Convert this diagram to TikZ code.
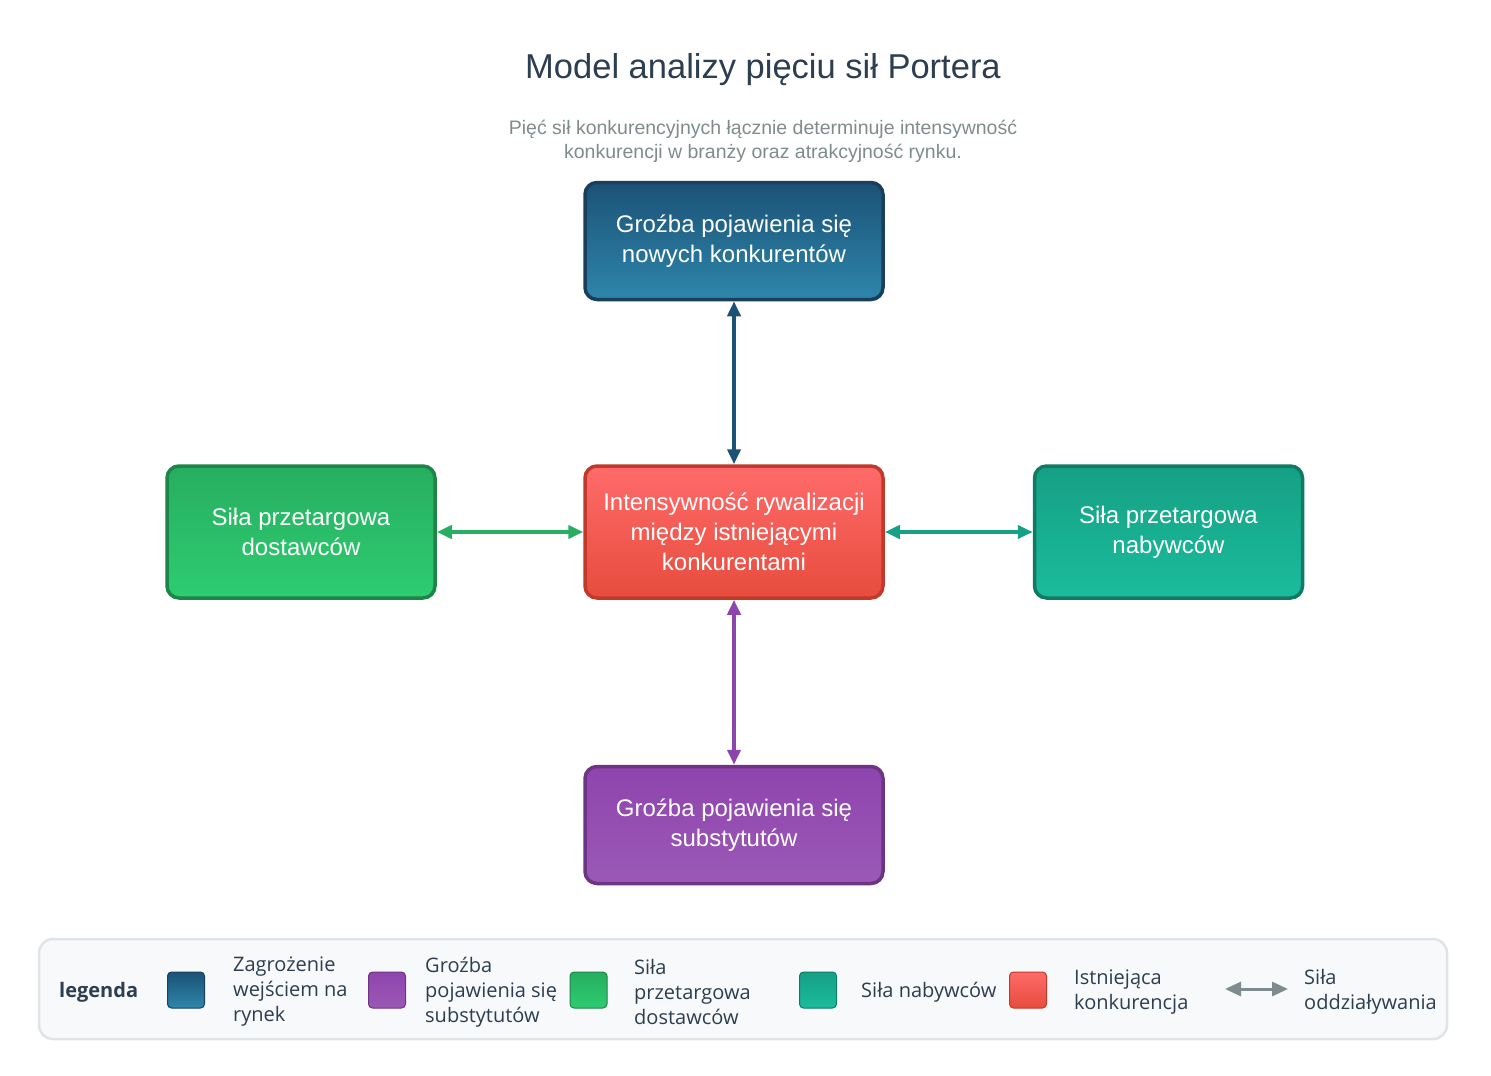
\documentclass[tikz,border=0pt]{standalone}
\usepackage{fontspec}
\setmainfont{Liberation Sans}
\newfontfamily\legendfont{Open Sans}
\usetikzlibrary{arrows.meta}

\definecolor{titletext}{HTML}{2C3E50}
\definecolor{subtext}{HTML}{7F8C8D}
\definecolor{entryA}{HTML}{1B5276}
\definecolor{entryB}{HTML}{2E86AB}
\definecolor{entryline}{HTML}{1A3F5C}
\definecolor{rivalA}{HTML}{FF6B6B}
\definecolor{rivalB}{HTML}{E74C3C}
\definecolor{rivalline}{HTML}{C0392B}
\definecolor{supplyA}{HTML}{27AE60}
\definecolor{supplyB}{HTML}{2ECC71}
\definecolor{supplyline}{HTML}{1E8449}
\definecolor{buyerA}{HTML}{16A085}
\definecolor{buyerB}{HTML}{1ABC9C}
\definecolor{buyerline}{HTML}{117A65}
\definecolor{substA}{HTML}{8E44AD}
\definecolor{substB}{HTML}{9B59B6}
\definecolor{substline}{HTML}{6C3483}
\definecolor{legendfill}{HTML}{F8F9FA}
\definecolor{legendline}{HTML}{E1E4E6}

\begin{document}
\begin{tikzpicture}[x=1pt,y=-1pt,>={Triangle[length=15pt,width=13pt]}]
    \tikzset{
        force/.style={
            draw,line width=3.5pt,rounded corners=12pt,
            minimum width=298pt,minimum height=117pt,
            inner sep=0pt,align=center,text=white,
            font=\fontsize{24}{30}\selectfont
        },
        entry/.style={force,top color=entryA,bottom color=entryB,draw=entryline},
        rival/.style={force,top color=rivalA,bottom color=rivalB,draw=rivalline,
            minimum height=132pt},
        supply/.style={force,top color=supplyA,bottom color=supplyB,draw=supplyline,
            minimum width=268pt,minimum height=132pt},
        buyer/.style={force,top color=buyerA,bottom color=buyerB,draw=buyerline,
            minimum width=268pt,minimum height=132pt},
        subst/.style={force,top color=substA,bottom color=substB,draw=substline},
        flow/.style={<->,line width=4pt},
        swatch/.style={
            draw,line width=1pt,rounded corners=4pt,
            minimum width=37pt,minimum height=36pt,inner sep=0pt
        },
        legtext/.style={
            anchor=west,align=left,inner sep=0pt,text=titletext,
            font=\legendfont\fontsize{20}{25}\selectfont
        }
    }

    \useasboundingbox[fill=white] (0,0) rectangle (1491,1076);

    \node[text=titletext,font=\fontsize{34.5}{40}\selectfont] (title) at (763,70)
        {Model analizy pięciu sił Portera};
    \node[text=subtext,align=center,font=\fontsize{19.5}{24}\selectfont]
        (subtitle) at (763,141)
        {Pięć sił konkurencyjnych łącznie determinuje intensywność\\
         konkurencji w branży oraz atrakcyjność rynku.};

    \node[entry] (entrants) at (734,241)
        {Groźba pojawienia się\\nowych konkurentów};
    \node[rival] (rivalry) at (734,532)
        {Intensywność rywalizacji\\między istniejącymi\\konkurentami};
    \node[supply] (suppliers) at (301,532)
        {Siła przetargowa\\dostawców};
    \node[buyer] (buyers) at (1168.5,532)
        {Siła przetargowa\\nabywców};
    \node[subst] (substitutes) at (734,825)
        {Groźba pojawienia się\\substytutów};

    \draw[flow,entryA] (entrants) -- (rivalry);
    \draw[flow,supplyA] (suppliers) -- (rivalry);
    \draw[flow,buyerA] (rivalry) -- (buyers);
    \draw[flow,substA] (rivalry) -- (substitutes);

    % legenda
    \node[draw=legendline,fill=legendfill,line width=2.5pt,rounded corners=14pt,
        minimum width=1408pt,minimum height=100pt,inner sep=0pt]
        (legend-box) at (743,989) {};
    \node[legtext,font=\legendfont\bfseries\fontsize{20}{25}\selectfont]
        (leg-title) at (59,992) {legenda};
    \node[swatch,top color=entryA,bottom color=entryB,draw=entryline]
        (leg-entry) at (186,990) {};
    \node[legtext] (leg-entry-txt) at (233,992)
        {Zagrożenie\\wejściem na\\rynek};
    \node[swatch,top color=substA,bottom color=substB,draw=substline]
        (leg-subst) at (387,990) {};
    \node[legtext] (leg-subst-txt) at (425,992)
        {Groźba\\pojawienia się\\substytutów};
    \node[swatch,top color=supplyA,bottom color=supplyB,draw=supplyline]
        (leg-supply) at (588.5,990) {};
    \node[legtext] (leg-supply-txt) at (634,992)
        {Siła\\przetargowa\\dostawców};
    \node[swatch,top color=buyerA,bottom color=buyerB,draw=buyerline]
        (leg-buyer) at (818,990) {};
    \node[legtext] (leg-buyer-txt) at (861,992) {Siła nabywców};
    \node[swatch,top color=rivalA,bottom color=rivalB,draw=rivalline]
        (leg-rival) at (1028,990) {};
    \node[legtext] (leg-rival-txt) at (1074,992)
        {Istniejąca\\konkurencja};
    \coordinate (leg-arrow-a) at (1225,989);
    \coordinate (leg-arrow-b) at (1288,989);
    \draw[<->,subtext,line width=3pt,>={Triangle[length=16pt,width=14pt]}]
        (leg-arrow-a) -- (leg-arrow-b);
    \node[legtext] (leg-arrow-txt) at (1304,992)
        {Siła\\oddziaływania};
\end{tikzpicture}
\end{document}
